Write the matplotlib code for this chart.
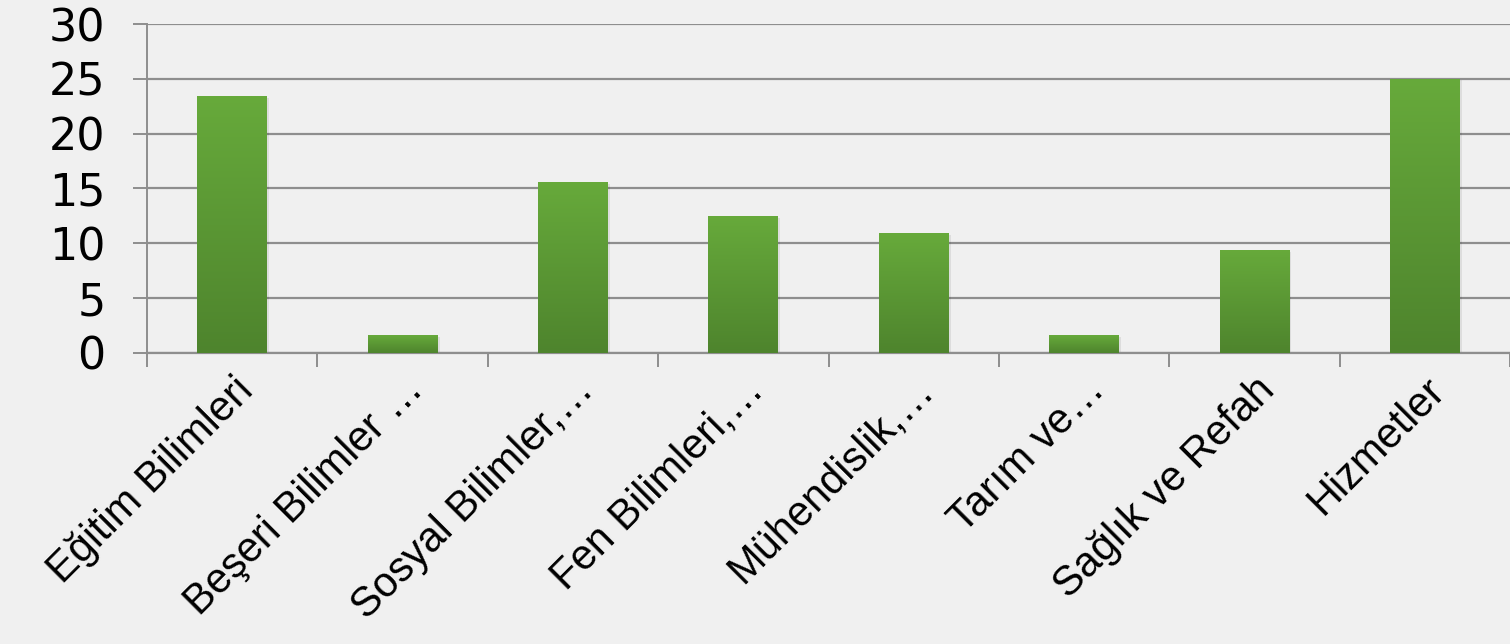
import matplotlib.pyplot as plt
import numpy as np
from matplotlib.colors import LinearSegmentedColormap

categories = ['Eğitim Bilimleri', 'Beşeri Bilimler …', 'Sosyal Bilimler,…',
              'Fen Bilimleri,…', 'Mühendislik,…', 'Tarım ve…',
              'Sağlık ve Refah', 'Hizmetler']
values = [23.4, 1.6, 15.6, 12.5, 10.9, 1.6, 9.4, 25.0]
yticks = [0, 5, 10, 15, 20, 25, 30]

plt.rcParams['font.family'] = ['DejaVu Sans']

bg = '#f0f0f0'
grid_col = '#8e8e8e'

fig = plt.figure(figsize=(15.1, 6.44), dpi=100, facecolor=bg)
ax = fig.add_axes([0.0974, 0.452, 0.9026, 0.5107])
ax.set_facecolor(bg)

x = np.arange(len(categories))
bars = ax.bar(x, values, width=0.41, color='#5a9634', zorder=3)

# vertical gradient inside each bar, light on top, darker at the bottom
cmap = LinearSegmentedColormap.from_list('g', ['#4e842d', '#67aa3b'])
grad = np.linspace(0, 1, 256).reshape(-1, 1)
for b in bars:
    x0, y0 = b.get_x(), b.get_y()
    w, h = b.get_width(), b.get_height()
    # soft shadow to the right
    ax.bar(x0 + w / 2 + 0.012, h, width=w, bottom=y0 - 0.15, color='#000000',
           alpha=0.08, zorder=2)
    im = ax.imshow(grad, cmap=cmap, origin='lower', aspect='auto',
                   extent=[x0, x0 + w, y0, y0 + h], zorder=4)
    im.set_clip_path(b)

ax.set_xlim(-0.5, len(categories) - 0.5)
ax.set_ylim(0, 30)
ax.set_yticks(yticks)
ax.set_yticklabels([str(t) for t in yticks], fontsize=32)
ax.yaxis.grid(True, color=grid_col, linewidth=1.6, zorder=1)

ax.set_xticks(x)
ax.set_xticklabels(categories, rotation=45, ha='right', rotation_mode='anchor',
                   fontsize=30, family=['Liberation Sans', 'DejaVu Sans'])
ax.set_xticks(np.arange(-0.5, len(categories), 1), minor=True)
ax.tick_params(axis='x', which='major', length=0, pad=12)
ax.tick_params(axis='x', which='minor', length=10, width=1.4, color=grid_col)
ax.tick_params(axis='y', length=10, width=1.4, color=grid_col, pad=20)

for s in ['top', 'right']:
    ax.spines[s].set_visible(False)
ax.spines['left'].set_color(grid_col)
ax.spines['left'].set_linewidth(1.4)
ax.spines['bottom'].set_color(grid_col)
ax.spines['bottom'].set_linewidth(1.6)

fig.savefig('out.png', dpi=100, facecolor=bg)
